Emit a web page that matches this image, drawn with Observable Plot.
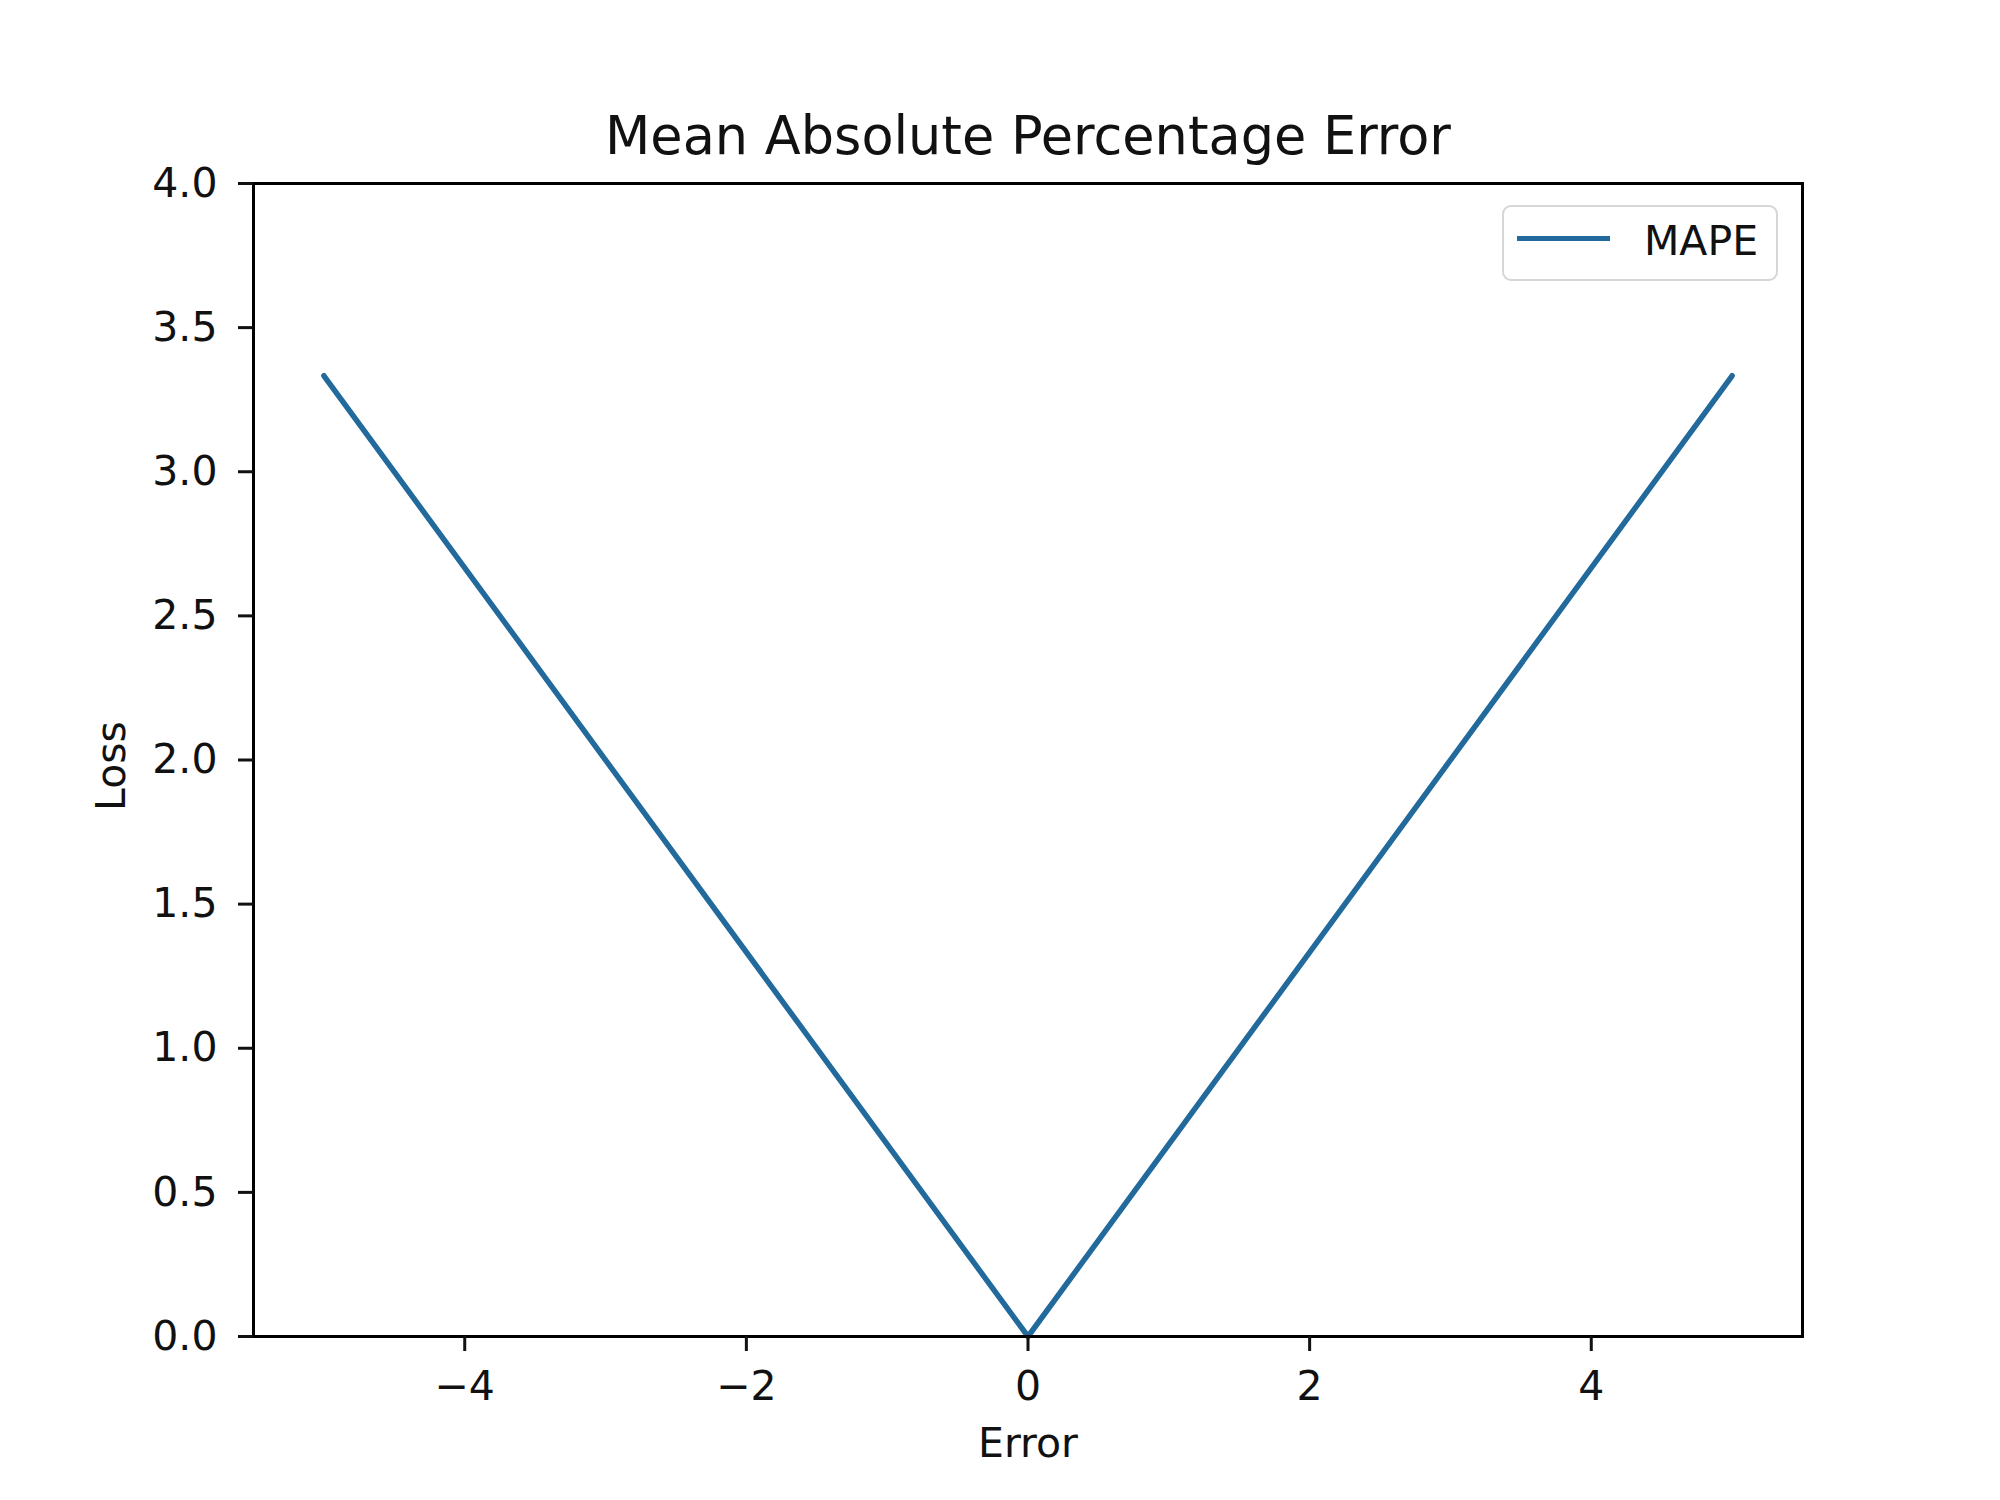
<!DOCTYPE html>
<html>
<head>
<meta charset="utf-8">
<script src="https://cdn.jsdelivr.net/npm/d3@7"></script>
<script src="https://cdn.jsdelivr.net/npm/@observablehq/plot@0.6"></script>
<style>
  html, body { margin: 0; padding: 0; background: #fff; }
  #wrap { position: relative; width: 2000px; height: 1500px; font-family: "DejaVu Sans", sans-serif; }
  #wrap svg { display: block; }
  .legend { position: absolute; left: 1502px; top: 205px; width: 276px; height: 76px;
            border: 2px solid #d6d6d6; border-radius: 9px; background: rgba(255,255,255,0.8);
            box-sizing: border-box; }
  .legend .sw { position: absolute; left: 13px; top: 29px; width: 93px; height: 0; border-top: 5px solid #22699c; }
  .legend .lb { position: absolute; left: 140px; top: 9px; font-size: 41px; line-height: 50px; color: #111; }
</style>
</head>
<body>
<div id="wrap"></div>
<script>
const errors = [-5, 0, 5];
const losses = [3.333, 0, 3.333];
const seriesName = "MAPE";
const xTicks = [-4, -2, 0, 2, 4];
const yTicks = [0, 0.5, 1, 1.5, 2, 2.5, 3, 3.5, 4];
const titleText = "Mean Absolute Percentage Error";
const xLabel = "Error";
const yLabel = "Loss";

const data = errors.map((e, i) => ({error: e, loss: losses[i]}));

const chart = Plot.plot({
  width: 2000,
  height: 1500,
  marginLeft: 253,
  marginRight: 198,
  marginTop: 183,
  marginBottom: 164,
  style: {fontFamily: "DejaVu Sans, sans-serif", fontSize: "41px", color: "#111", background: "#fff"},
  x: {domain: [-5.5, 5.5]},
  y: {domain: [0, 4]},
  marks: [
    Plot.line(data, {x: "error", y: "loss", stroke: "#22699c", strokeWidth: 5.5}),
    Plot.frame({stroke: "black", strokeWidth: 3}),
    Plot.axisX({ticks: xTicks, tickSize: 15, tickPadding: 19, strokeWidth: 3, label: null, fontSize: 41,
                tickFormat: d => d < 0 ? "\u2212" + Math.abs(d) : String(d)}),
    Plot.axisY({ticks: yTicks, tickSize: 15, tickPadding: 21, strokeWidth: 3, label: null, fontSize: 41,
                tickFormat: d3.format(".1f")}),
    Plot.text([titleText], {frameAnchor: "top", dy: -30, lineAnchor: "bottom", fontSize: 52.5, fill: "#111"}),
    Plot.text([xLabel], {frameAnchor: "bottom", dy: 107, lineAnchor: "middle", fontSize: 41, fill: "#111"}),
    Plot.text([yLabel], {frameAnchor: "left", dx: -142, dy: 6, rotate: -90, textAnchor: "middle", lineAnchor: "middle", fontSize: 41, fill: "#111"})
  ]
});

const wrap = document.getElementById("wrap");
wrap.appendChild(chart);
const legend = document.createElement("div");
legend.className = "legend";
legend.innerHTML = '<div class="sw"></div><div class="lb"></div>';
legend.querySelector(".lb").textContent = seriesName;
wrap.appendChild(legend);
</script>
</body>
</html>
